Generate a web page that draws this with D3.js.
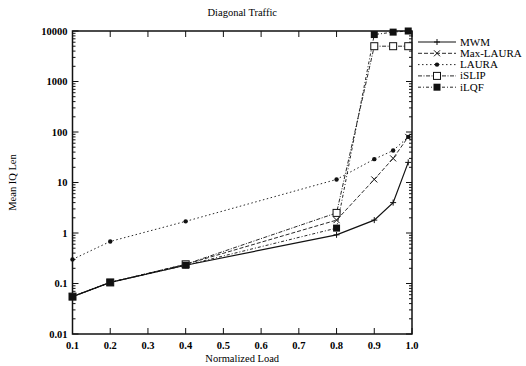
<!DOCTYPE html>
<html>
<head>
<meta charset="utf-8" />
<script src="https://d3js.org/d3.v7.min.js"></script>
<style>
  body { margin: 0; background: #fff; }
  svg { font-family: "Liberation Serif", "DejaVu Serif", serif; }
</style>
</head>
<body>
<div id="chart"></div>
<script>
// charge normalisee
const loads = [0.1, 0.2, 0.4, 0.8, 0.9, 0.95, 0.99];

// longueur moyenne des files
const mwm      = [0.055, 0.105, 0.23, 0.92, 1.8, 4, 25];
const maxLaura = [0.055, 0.105, 0.24, 1.8, 11.5, 30, 80];
const laura    = [0.3, 0.68, 1.7, 11.5, 29, 43, 80];
const islip    = [0.055, 0.105, 0.24, 2.5, 5000, 5000, 5000];
const ilqf     = [0.055, 0.105, 0.23, 1.25, 8500, 9500, 10000];

const seriesNames = ["MWM", "Max-LAURA", "LAURA", "iSLIP", "iLQF"];
const xTicks = [0.1, 0.2, 0.3, 0.4, 0.5, 0.6, 0.7, 0.8, 0.9, 1.0];
const yTicks = [0.01, 0.1, 1, 10, 100, 1000, 10000];

const width = 526, height = 366;
const margin = {left: 72.5, right: 114, top: 31, bottom: 32};

const svg = d3.select("#chart").append("svg")
  .attr("width", width).attr("height", height);

const x = d3.scaleLinear().domain([0.1, 1.0]).range([margin.left, width - margin.right]);
const y = d3.scaleLog().domain([0.01, 10000]).range([height - margin.bottom, margin.top]);

const x0 = x.range()[0], x1 = x.range()[1];
const y0 = y.range()[0], y1 = y.range()[1];

// cadre
svg.append("rect")
  .attr("x", x0).attr("y", y1)
  .attr("width", x1 - x0).attr("height", y0 - y1)
  .attr("fill", "none").attr("stroke", "#111").attr("stroke-width", 1.5);

// graduations mineures log
const minor = [];
for (let e = -2; e < 4; e++) for (let k = 2; k <= 9; k++) minor.push(k * Math.pow(10, e));

const ticksG = svg.append("g").attr("stroke", "#111").attr("stroke-width", 1);
ticksG.selectAll(".ymin").data(minor).enter().append("path")
  .attr("d", d => `M${x0},${y(d)}h3M${x1},${y(d)}h-3`);
ticksG.selectAll(".ymaj").data(yTicks).enter().append("path")
  .attr("d", d => `M${x0},${y(d)}h6M${x1},${y(d)}h-6`);
ticksG.selectAll(".xmaj").data(xTicks).enter().append("path")
  .attr("d", d => `M${x(d)},${y0}v-6M${x(d)},${y1}v6`);

// labels des axes
svg.selectAll(".ylab").data(yTicks).enter().append("text")
  .attr("x", x0 - 5).attr("y", d => y(d) + 3.5)
  .attr("text-anchor", "end").style("font-size", "10.5px").style("font-weight", "bold")
  .text(d => d >= 1 ? d3.format("d")(d) : String(d));

svg.selectAll(".xlab").data(xTicks).enter().append("text")
  .attr("x", d => x(d)).attr("y", y0 + 15)
  .attr("text-anchor", "middle").style("font-size", "10.5px").style("font-weight", "bold")
  .text(d => d.toFixed(1));

svg.append("text").attr("x", (x0 + x1) / 2).attr("y", 362)
  .attr("text-anchor", "middle").style("font-size", "10.5px")
  .text("Normalized Load");

svg.append("text").attr("transform", `translate(16,${(y0 + y1) / 2}) rotate(-90)`)
  .attr("text-anchor", "middle").style("font-size", "10.5px")
  .text("Mean IQ Len");

svg.append("text").attr("x", (x0 + x1) / 2).attr("y", 16)
  .attr("text-anchor", "middle").style("font-size", "10.5px")
  .text("Diagonal Traffic");

// series
const allSeries = [
  {name: seriesNames[0], values: mwm,      dash: null,          marker: "plus"},
  {name: seriesNames[1], values: maxLaura, dash: "4,2",         marker: "cross"},
  {name: seriesNames[2], values: laura,    dash: "1.5,2.5",     marker: "dot"},
  {name: seriesNames[3], values: islip,    dash: "4,1.5,1,1.5", marker: "open"},
  {name: seriesNames[4], values: ilqf,     dash: "3,2,1,2",     marker: "filled"}
];

const line = d3.line().x(d => x(d[0])).y(d => y(d[1]));

function drawMarker(g, type, cx, cy) {
  if (type === "plus") {
    g.append("path").attr("d", `M${cx-3},${cy}h6M${cx},${cy-3}v6`)
      .attr("stroke", "#111").attr("stroke-width", 1);
  } else if (type === "cross") {
    g.append("path").attr("d", `M${cx-3},${cy-3}l6,6M${cx-3},${cy+3}l6,-6`)
      .attr("stroke", "#111").attr("stroke-width", 1);
  } else if (type === "dot") {
    g.append("circle").attr("cx", cx).attr("cy", cy).attr("r", 2.2).attr("fill", "#111");
  } else if (type === "open") {
    g.append("rect").attr("x", cx - 3.5).attr("y", cy - 3.5).attr("width", 7).attr("height", 7)
      .attr("fill", "#fff").attr("stroke", "#111").attr("stroke-width", 1);
  } else {
    g.append("rect").attr("x", cx - 3.5).attr("y", cy - 3.5).attr("width", 7).attr("height", 7)
      .attr("fill", "#111");
  }
}

allSeries.forEach(s => {
  const pts = loads.map((l, i) => [l, s.values[i]]);
  svg.append("path").datum(pts)
    .attr("d", line).attr("fill", "none").attr("stroke", "#111")
    .attr("stroke-width", s.dash ? 0.9 : 1.2)
    .attr("stroke-dasharray", s.dash);
});
allSeries.forEach(s => {
  const g = svg.append("g");
  loads.forEach((l, i) => drawMarker(g, s.marker, x(l), y(s.values[i])));
});

// legende
const legend = svg.append("g");
allSeries.forEach((s, i) => {
  const ly = 42 + i * 11.3;
  legend.append("path").attr("d", `M418,${ly}h38`)
    .attr("stroke", "#111").attr("stroke-width", s.dash ? 0.9 : 1.2)
    .attr("stroke-dasharray", s.dash);
  drawMarker(legend, s.marker, 437, ly);
  legend.append("text").attr("x", 460).attr("y", ly + 3.5)
    .style("font-size", "11px").text(s.name);
});
</script>
</body>
</html>
